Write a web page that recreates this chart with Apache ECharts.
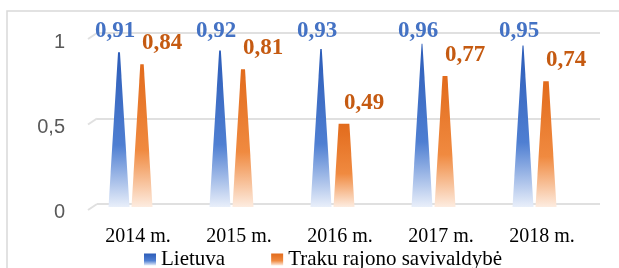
<!DOCTYPE html>
<html lang="lt">
<head>
  <meta charset="UTF-8">
  <title>Lietuva / Traku</title>
  <style>
    html, body { margin: 0; padding: 0; background: #fff; }
    #chart { width: 619px; height: 268px; }
  </style>
</head>
<body>
<div id="chart"></div>
<script src="https://cdn.jsdelivr.net/npm/echarts@6/dist/echarts.min.js"></script>
<script>
const years = ['2014 m.', '2015 m.', '2016 m.', '2017 m.', '2018 m.'];
const lietuva = [0.91, 0.92, 0.93, 0.96, 0.95];
const traku = [0.84, 0.81, 0.49, 0.77, 0.74];
const seriesNames = ['Lietuva', 'Traku rajono savivaldybė'];

const fmt = v => String(v).replace('.', ',');

const blueFill = new echarts.graphic.LinearGradient(0, 0, 0, 1, [
  { offset: 0, color: '#2c5cb8' },
  { offset: 0.6, color: '#4f7fd2' },
  { offset: 1, color: '#e9effa' }
]);
const orangeFill = new echarts.graphic.LinearGradient(0, 0, 0, 1, [
  { offset: 0, color: '#e26b1c' },
  { offset: 0.6, color: '#f08a40' },
  { offset: 1, color: '#fdece0' }
]);

// cone "truncated to max": full cone reaches the axis max, cut at the value
function coneRenderer(dx, fill, textColor, labelDx, minLabelY) {
  return function (params, api) {
    const i = api.value(0);
    const v = api.value(1);
    const base = api.coord([i, 0]);
    const top = api.coord([i, v]);
    const halfW = 10.5;
    const topHalf = halfW * (1 - v);
    const cx = base[0] + dx;
    const labelY = Math.max(top[1] - 21, minLabelY);
    return {
      type: 'group',
      children: [{
        type: 'polygon',
        shape: {
          points: [
            [cx - halfW, base[1]],
            [cx - topHalf, top[1]],
            [cx + topHalf, top[1]],
            [cx + halfW, base[1]]
          ]
        },
        style: { fill: fill }
      }, {
        type: 'text',
        x: cx + labelDx,
        y: labelY,
        style: {
          text: fmt(v),
          fill: textColor,
          font: 'bold 23px "Liberation Serif"',
          align: 'center',
          verticalAlign: 'middle'
        }
      }]
    };
  };
}

// short slanted stubs at the left end of the back-wall gridlines
const wallLines = [33, 118.5, 204].map(y => ({
  type: 'line',
  shape: { x1: 88, y1: y + 6, x2: 97, y2: y },
  style: { stroke: '#e0e0e0', lineWidth: 2 },
  silent: true
}));

const myChart = echarts.init(document.getElementById('chart'), null, { renderer: 'canvas' });
myChart.setOption({
  animation: false,
  graphic: [{
    type: 'rect',
    shape: { x: 7, y: 11, width: 700, height: 400 },
    style: { fill: 'none', stroke: '#d9d9d9', lineWidth: 1.5 },
    silent: true
  }].concat(wallLines),
  legend: {
    left: 144,
    top: 249,
    padding: 0,
    icon: 'rect',
    itemWidth: 12,
    itemHeight: 12,
    itemGap: 46,
    data: seriesNames,
    textStyle: { fontFamily: 'Liberation Serif', fontSize: 21, color: '#000' }
  },
  grid: [
    { left: 80, right: 34, top: 37, height: 170 },   // cones (front plane)
    { left: 97, right: 19, top: 33, height: 171 },   // back wall gridlines
    { left: 80, right: 34, top: 42, height: 170 }    // value labels
  ],
  xAxis: [{
    type: 'category',
    gridIndex: 0,
    data: years,
    axisLine: { show: false },
    axisTick: { show: false },
    axisLabel: {
      margin: 20,
      padding: [0, 0, 0, 15],
      fontFamily: 'Liberation Serif',
      fontSize: 20,
      color: '#000'
    }
  }, {
    type: 'category',
    gridIndex: 1,
    data: years,
    show: false
  }, {
    type: 'category',
    gridIndex: 2,
    data: years,
    show: false
  }],
  yAxis: [{
    type: 'value',
    gridIndex: 0,
    min: 0,
    max: 1,
    interval: 0.5,
    show: false
  }, {
    type: 'value',
    gridIndex: 1,
    min: 0,
    max: 1,
    interval: 0.5,
    axisLine: { show: false },
    axisTick: { show: false },
    axisLabel: { show: false },
    splitLine: { lineStyle: { color: '#e0e0e0', width: 2 } }
  }, {
    type: 'value',
    gridIndex: 2,
    min: 0,
    max: 1,
    interval: 0.5,
    axisLine: { show: false },
    axisTick: { show: false },
    splitLine: { show: false },
    axisLabel: {
      margin: 15,
      fontFamily: 'Liberation Sans',
      fontSize: 20,
      color: '#595959',
      formatter: v => fmt(v)
    }
  }],
  series: [{
    name: seriesNames[0],
    type: 'custom',
    xAxisIndex: 0,
    yAxisIndex: 0,
    itemStyle: { color: blueFill },
    renderItem: coneRenderer(-11.5, blueFill, '#4472c4', -4, 31),
    data: lietuva.map((v, i) => [i, v]),
    z: 3
  }, {
    name: seriesNames[1],
    type: 'custom',
    xAxisIndex: 0,
    yAxisIndex: 0,
    itemStyle: { color: orangeFill },
    renderItem: coneRenderer(11.5, orangeFill, '#c55a11', 20, 0),
    data: traku.map((v, i) => [i, v]),
    z: 3
  }]
});
window.addEventListener('resize', () => myChart.resize());
</script>
</body>
</html>
